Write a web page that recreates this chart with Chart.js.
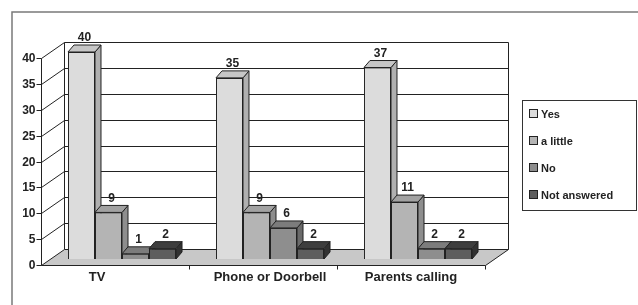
<!DOCTYPE html>
<html>
<head>
<meta charset="utf-8">
<title>Reaction to sounds</title>
<script src="https://cdn.jsdelivr.net/npm/chart.js@4.4.0/dist/chart.umd.min.js"></script>
<style>
  html, body { margin: 0; padding: 0; background: #fff; }
  canvas { display: block; }
</style>
</head>
<body>
<canvas id="chart" width="638" height="305"></canvas>
<script>
// data
const categories = ["TV", "Phone or Doorbell", "Parents calling"];
const seriesNames = ["Yes", "a little", "No", "Not answered"];
const yesValues = [40, 35, 37];
const littleValues = [9, 9, 11];
const noValues = [1, 6, 2];
const notAnsweredValues = [2, 2, 2];
const yTicks = [0, 5, 10, 15, 20, 25, 30, 35, 40];

// grey shades: front face, top face, side face
const fills = ['#dcdcdc', '#b4b4b4', '#8e8e8e', '#5e5e5e'];
const tops = ['#c6c6c6', '#a2a2a2', '#7c7c7c', '#3e3e3e'];
const sides = ['#b0b0b0', '#8e8e8e', '#6a6a6a', '#323232'];

const WALL = { dx: 23, dy: -16 };   // back wall offset from the front axis
const BARS = { dx: 7, dy: -6 };     // bar row sits a bit into the floor
const DEPTH = { dx: 6, dy: -7 };    // thickness of each bar
const labelNudge = [-18, 7, 0];     // excel puts the category names a bit off centre
const FONT = 'bold 12px "Liberation Sans", Arial, sans-serif';
const INK = '#222';

function poly(ctx, pts, fill, stroke) {
  ctx.beginPath();
  ctx.moveTo(pts[0][0], pts[0][1]);
  for (let i = 1; i < pts.length; i++) ctx.lineTo(pts[i][0], pts[i][1]);
  ctx.closePath();
  if (fill) { ctx.fillStyle = fill; ctx.fill(); }
  if (stroke) { ctx.strokeStyle = stroke; ctx.lineWidth = 1; ctx.stroke(); }
}

function line(ctx, x1, y1, x2, y2, color) {
  ctx.beginPath();
  ctx.moveTo(x1, y1);
  ctx.lineTo(x2, y2);
  ctx.strokeStyle = color || INK;
  ctx.lineWidth = 1;
  ctx.stroke();
}

const fake3d = {
  id: 'fake3d',
  beforeDatasetsDraw(chart) {
    const ctx = chart.ctx;
    const a = chart.chartArea;
    const ys = chart.scales.y;
    const L = a.left + 0.5, R = a.right + 0.5, B = a.bottom + 0.5;

    // floor
    poly(ctx, [[L, B], [R, B], [R + WALL.dx, B + WALL.dy], [L + WALL.dx, B + WALL.dy]], '#c8c8c8', INK);

    // back wall + side wall lines
    const topY = Math.round(ys.getPixelForValue(40)) + 0.5;
    line(ctx, L + WALL.dx, topY + WALL.dy, L + WALL.dx, B + WALL.dy);
    line(ctx, R + WALL.dx, topY + WALL.dy, R + WALL.dx, B + WALL.dy);
    yTicks.forEach(v => {
      const py = Math.round(ys.getPixelForValue(v)) + 0.5;
      if (v > 0) {
        line(ctx, L + WALL.dx, py + WALL.dy, R + WALL.dx, py + WALL.dy);
        line(ctx, L, py, L + WALL.dx, py + WALL.dy);
      }
      // tick + label on the front axis
      line(ctx, L - 5, py, L, py);
      ctx.font = FONT;
      ctx.fillStyle = INK;
      ctx.textAlign = 'right';
      ctx.textBaseline = 'middle';
      ctx.fillText(String(v), L - 6, py);
    });
    line(ctx, L, topY, L, B);

    // category ticks along the front of the floor
    const xs = chart.scales.x;
    for (let i = 1; i <= categories.length; i++) {
      const px = Math.round(xs.getPixelForValue(i - 0.5)) + 0.5;
      line(ctx, px, B, px, B + 4);
    }

    ctx.save();
    ctx.translate(BARS.dx, BARS.dy);
  },
  afterDatasetsDraw(chart) {
    const ctx = chart.ctx;
    // sides and tops, then front again so the next bar hides the side
    for (let i = 0; i < categories.length; i++) {
      chart.data.datasets.forEach((ds, d) => {
        const el = chart.getDatasetMeta(d).data[i];
        const p = el.getProps(['x', 'y', 'base', 'width'], true);
        const x0 = p.x - p.width / 2, x1 = p.x + p.width / 2;
        poly(ctx, [[x1, p.y], [x1 + DEPTH.dx, p.y + DEPTH.dy], [x1 + DEPTH.dx, p.base + DEPTH.dy], [x1, p.base]], sides[d], INK);
        poly(ctx, [[x0, p.y], [x1, p.y], [x1 + DEPTH.dx, p.y + DEPTH.dy], [x0 + DEPTH.dx, p.y + DEPTH.dy]], tops[d], INK);
        el.draw(ctx);
      });
    }
    // value labels
    ctx.font = FONT;
    ctx.fillStyle = INK;
    ctx.textAlign = 'center';
    ctx.textBaseline = 'middle';
    chart.data.datasets.forEach((ds, d) => {
      chart.getDatasetMeta(d).data.forEach((el, i) => {
        ctx.fillText(String(ds.data[i]), el.x + DEPTH.dx / 2, el.y - 14);
      });
    });
    ctx.restore();
  },
  afterDraw(chart) {
    const ctx = chart.ctx;
    const xs = chart.scales.x;

    // category names
    ctx.font = 'bold 13px "Liberation Sans", Arial, sans-serif';
    ctx.fillStyle = INK;
    ctx.textAlign = 'center';
    ctx.textBaseline = 'middle';
    categories.forEach((c, i) => {
      ctx.fillText(c, xs.getPixelForValue(i) + labelNudge[i], 277);
    });

    // legend box
    ctx.strokeStyle = '#333';
    ctx.lineWidth = 1;
    ctx.strokeRect(522.5, 100.5, 114, 110);
    ctx.font = 'bold 11px "Liberation Sans", Arial, sans-serif';
    ctx.textAlign = 'left';
    seriesNames.forEach((name, i) => {
      const cy = 114 + i * 27;
      ctx.fillStyle = fills[i];
      ctx.fillRect(529.5, cy - 4.5, 8, 8);
      ctx.strokeStyle = INK;
      ctx.strokeRect(529.5, cy - 4.5, 8, 8);
      ctx.fillStyle = INK;
      ctx.fillText(name, 541, cy + 1);
    });

    // outer frame, runs off the right and bottom edge
    ctx.strokeStyle = '#7a7a7a';
    ctx.lineWidth = 1.5;
    ctx.beginPath();
    ctx.moveTo(12, 310);
    ctx.lineTo(12, 12);
    ctx.lineTo(640, 12);
    ctx.stroke();
  }
};

const seriesValues = [yesValues, littleValues, noValues, notAnsweredValues];

new Chart(document.getElementById('chart').getContext('2d'), {
  type: 'bar',
  data: {
    labels: categories,
    datasets: seriesNames.map((name, i) => ({
      label: name,
      data: seriesValues[i],
      backgroundColor: fills[i],
      borderColor: INK,
      borderWidth: 1,
      categoryPercentage: 0.73,
      barPercentage: 1,
      clip: false
    }))
  },
  options: {
    responsive: false,
    animation: false,
    layout: { padding: { left: 41, right: 153, top: 58, bottom: 40 } },
    scales: {
      x: { display: false },
      y: { display: false, min: 0, max: 40 }
    },
    plugins: {
      legend: { display: false },
      tooltip: { enabled: false }
    }
  },
  plugins: [fake3d]
});
</script>
</body>
</html>
